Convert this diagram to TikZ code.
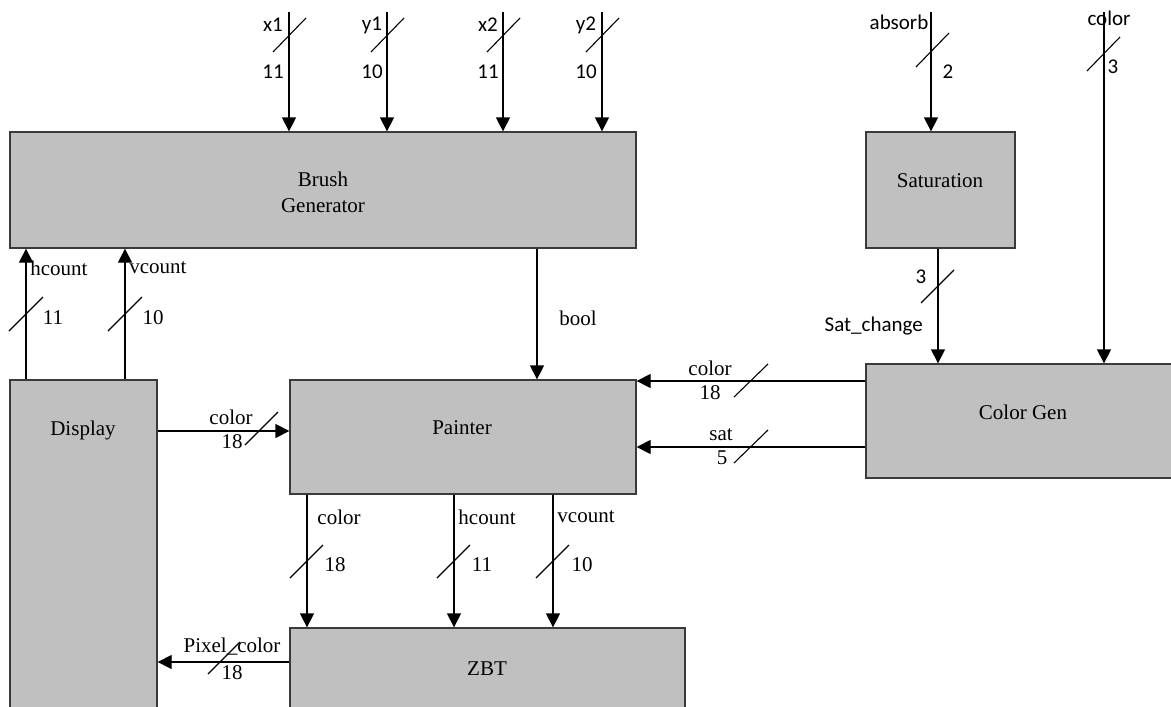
\documentclass[tikz,border=0pt]{standalone}
\usepackage{fontspec}
\setmainfont{Liberation Serif}
\newfontfamily\calib{Carlito}
\usetikzlibrary{arrows.meta}
\definecolor{boxgray}{HTML}{C0C0C0}
\definecolor{boxline}{HTML}{3A3A3A}
\begin{document}
\begin{tikzpicture}[x=1pt,y=-1pt,
  blk/.style={draw=boxline, fill=boxgray, line width=1.3pt, rectangle, inner sep=0pt},
  arr/.style={draw=black, line width=1.3pt, -{Triangle[length=14pt,width=14pt]}},
  slashline/.style={draw=black, line width=1.1pt},
  ser/.style={font=\fontsize{21}{26}\selectfont, inner sep=0pt, align=center},
  sns/.style={font=\calib\fontsize{21}{26}\selectfont, inner sep=0pt}]
\useasboundingbox (0,0) rectangle (1171,707);
\clip (0,0) rectangle (1171,707);
\fill[white] (0,0) rectangle (1171,707);

% blocks
\node[blk, minimum width=626pt, minimum height=116pt] (brush) at (323,190) {};
\node[blk, minimum width=149pt, minimum height=116pt] (sat) at (940.5,190) {};
\node[blk, minimum width=147pt, minimum height=340pt] (disp) at (83.5,550) {};
\node[blk, minimum width=346pt, minimum height=114pt] (paint) at (463,437) {};
\node[blk, minimum width=319pt, minimum height=114pt] (cgen) at (1025.5,421) {};
\node[blk, minimum width=395pt, minimum height=92pt] (zbt) at (487.5,674) {};

% block texts
\node[ser] (tbrush) at (323,192) {Brush\\Generator};
\node[ser] (tsat) at (940,181) {Saturation};
\node[ser] (tdisp) at (83,430) {Display};
\node[ser] (tpaint) at (462,428) {Painter};
\node[ser] (tcgen) at (1023,412) {Color Gen};
\node[ser] (tzbt) at (487,669) {ZBT};

% top inputs to Brush Generator
\coordinate (tx1) at (289,12);
\coordinate (ty1) at (387,12);
\coordinate (tx2) at (503,12);
\coordinate (ty2) at (602,12);
\foreach \c in {tx1,ty1,tx2,ty2}{
  \draw[arr] (\c) -- (\c |- brush.north);
}
\foreach \x in {289,387,503,602}{
  \draw[slashline] (\x,35) ++(-16,17) -- ++(33,-34);
}
\node[sns] (lx1) at (273,25) {x1};
\node[sns] (nx1) at (273,72) {11};
\node[sns] (ly1) at (372,25) {y1};
\node[sns] (ny1) at (372,72) {10};
\node[sns] (lx2) at (488,25) {x2};
\node[sns] (nx2) at (488,72) {11};
\node[sns] (ly2) at (586,25) {y2};
\node[sns] (ny2) at (586,72) {10};

% absorb -> Saturation
\coordinate (tab) at (931,12);
\draw[arr] (tab) -- (tab |- sat.north);
\draw[slashline] (932,50) ++(-16,17) -- ++(33,-34);
\node[sns] (lab) at (899,22) {absorb};
\node[sns] (nab) at (948,72) {2};

% color -> Color Gen
\coordinate (tcol) at (1104,12);
\draw[arr] (tcol) -- (tcol |- cgen.north);
\draw[slashline] (1103,54) ++(-16,17) -- ++(33,-34);
\node[sns] (lcol) at (1109,18) {color};
\node[sns] (ncol) at (1113,67) {3};

% Saturation -> Color Gen
\coordinate (sx) at (938,0);
\draw[arr] (sat.south -| sx) -- (cgen.north -| sx);
\draw[slashline] (937,287) ++(-16,16) -- ++(33,-33);
\node[sns] (nsc) at (921,277) {3};
\node[sns, anchor=east] (lsc) at (923,326) {Sat\_change};

% Display -> Brush Generator
\coordinate (hx) at (26,0);
\coordinate (vx) at (125,0);
\draw[arr] (disp.north -| hx) -- (brush.south -| hx);
\draw[arr] (disp.north -| vx) -- (brush.south -| vx);
\draw[slashline] (26,314) ++(-17,17) -- ++(34,-34);
\draw[slashline] (125,314) ++(-17,17) -- ++(34,-34);
\node[ser] (lhc) at (59,268) {hcount};
\node[ser] (lvc) at (158,268) {vcount};
\node[ser] (nhc) at (53,318) {11};
\node[ser] (nvc) at (153,318) {10};

% Brush -> Painter (bool)
\coordinate (bx) at (537,0);
\draw[arr] (brush.south -| bx) -- (paint.north -| bx);
\node[ser] (lbool) at (578,318) {bool};

% Display -> Painter
\coordinate (dpy) at (0,431);
\draw[arr] (disp.east |- dpy) -- (paint.west |- dpy);
\draw[slashline] (261,429) ++(-16,16) -- ++(33,-33);
\node[ser] (ldp) at (231,417) {color};
\node[ser] (ndp) at (232,442) {18};

% Color Gen -> Painter
\coordinate (cy1) at (0,381);
\coordinate (cy2) at (0,447);
\draw[arr] (cgen.west |- cy1) -- (paint.east |- cy1);
\draw[arr] (cgen.west |- cy2) -- (paint.east |- cy2);
\draw[slashline] (751,381) ++(-17,16) -- ++(34,-33);
\draw[slashline] (751,447) ++(-17,16) -- ++(34,-33);
\node[ser] (lcg1) at (710,368) {color};
\node[ser] (ncg1) at (710,393) {18};
\node[ser] (lcg2) at (721,435) {sat};
\node[ser] (ncg2) at (722,458) {5};

% Painter -> ZBT
\coordinate (px1) at (307,0);
\coordinate (px2) at (454,0);
\coordinate (px3) at (553,0);
\draw[arr] (paint.south -| px1) -- (zbt.north -| px1);
\draw[arr] (paint.south -| px2) -- (zbt.north -| px2);
\draw[arr] (paint.south -| px3) -- (zbt.north -| px3);
\foreach \x in {307,454,553}{
  \draw[slashline] (\x,562) ++(-17,16) -- ++(33,-33);
}
\node[ser] (lpz1) at (339,517) {color};
\node[ser] (npz1) at (335,565) {18};
\node[ser] (lpz2) at (487,517) {hcount};
\node[ser] (npz2) at (482,565) {11};
\node[ser] (lpz3) at (586,517) {vcount};
\node[ser] (npz3) at (582,565) {10};

% ZBT -> Display
\coordinate (zy) at (0,662);
\draw[arr] (zbt.west |- zy) -- (disp.east |- zy);
\draw[slashline] (224,658) ++(-16,16) -- ++(32,-32);
\node[ser] (lzd) at (232,647) {Pixel\_color};
\node[ser] (nzd) at (232,673) {18};
\end{tikzpicture}
\end{document}
